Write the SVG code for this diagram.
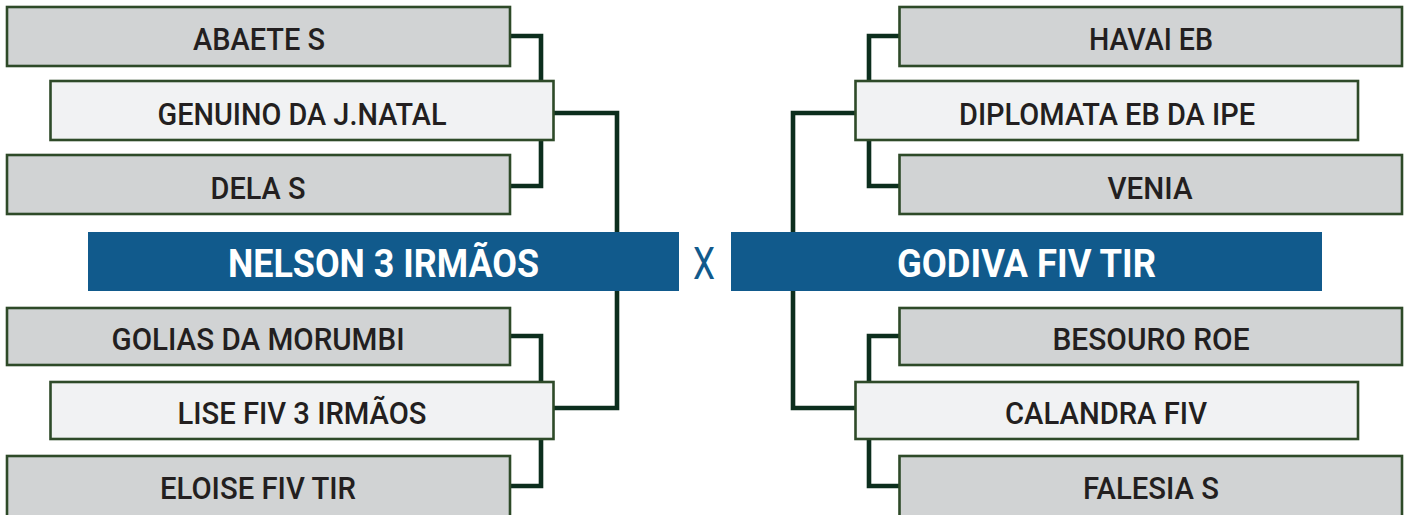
<svg xmlns="http://www.w3.org/2000/svg" width="1411" height="515" viewBox="0 0 1411 515">
<style>
.outer{fill:#d1d3d4;stroke:#2e4a28;stroke-width:2.6}
.inner{fill:#f1f2f3;stroke:#2e4a28;stroke-width:2.6}
.banner{fill:#115a8c}
.lbl{font-family:Roboto,"Liberation Sans",sans-serif;font-weight:500;font-size:32px;fill:#231f20;text-anchor:middle}
.big{font-family:Roboto,"Liberation Sans",sans-serif;font-weight:700;font-size:39px;fill:#ffffff;text-anchor:middle}
.vs{font-family:Roboto,"Liberation Sans",sans-serif;font-weight:400;font-size:45px;fill:#115a8c;text-anchor:middle}
.conn{fill:none;stroke:#0c2e1d;stroke-width:4.6;stroke-linejoin:miter;stroke-linecap:butt}
</style>
<rect width="1411" height="515" fill="#ffffff"/>
<g id="connectors">
<polyline class="conn" points="510,36 541,36 541,82"/>
<polyline class="conn" points="510,186 541,186 541,140"/>
<polyline class="conn" points="553,113 617,113 617,233"/>
<polyline class="conn" points="510,336 541,336 541,383"/>
<polyline class="conn" points="510,486 541,486 541,439"/>
<polyline class="conn" points="553,408 617,408 617,290"/>
<polyline class="conn" points="900,36 869,36 869,82"/>
<polyline class="conn" points="900,186 869,186 869,140"/>
<polyline class="conn" points="856,113 793,113 793,233"/>
<polyline class="conn" points="900,336 869,336 869,383"/>
<polyline class="conn" points="900,486 869,486 869,439"/>
<polyline class="conn" points="856,408 793,408 793,290"/>
</g>
<g id="abaete"><rect class="outer" x="7" y="7" width="503" height="59"/><text class="lbl" x="259" y="50" textLength="132" lengthAdjust="spacingAndGlyphs">ABAETE S</text></g>
<g id="genuino"><rect class="inner" x="50.5" y="81" width="503" height="59"/><text class="lbl" x="302" y="124.5" textLength="289" lengthAdjust="spacingAndGlyphs">GENUINO DA J.NATAL</text></g>
<g id="dela"><rect class="outer" x="7" y="155" width="503" height="59"/><text class="lbl" x="258" y="199" textLength="95" lengthAdjust="spacingAndGlyphs">DELA S</text></g>
<g id="golias"><rect class="outer" x="7" y="308" width="503" height="57"/><text class="lbl" x="258" y="350" textLength="293" lengthAdjust="spacingAndGlyphs">GOLIAS DA MORUMBI</text></g>
<g id="lise"><rect class="inner" x="50.5" y="382" width="503" height="57"/><text class="lbl" x="302" y="424" textLength="249" lengthAdjust="spacingAndGlyphs">LISE FIV 3 IRMÃOS</text></g>
<g id="eloise"><rect class="outer" x="7" y="456" width="503" height="64"/><text class="lbl" x="258" y="499" textLength="196" lengthAdjust="spacingAndGlyphs">ELOISE FIV TIR</text></g>
<g id="havai"><rect class="outer" x="899.5" y="7" width="502.5" height="59"/><text class="lbl" x="1151" y="50" textLength="124" lengthAdjust="spacingAndGlyphs">HAVAI EB</text></g>
<g id="diplomata"><rect class="inner" x="855.5" y="81" width="502.5" height="59"/><text class="lbl" x="1107" y="124.5" textLength="296" lengthAdjust="spacingAndGlyphs">DIPLOMATA EB DA IPE</text></g>
<g id="venia"><rect class="outer" x="899.5" y="155" width="502.5" height="59"/><text class="lbl" x="1150" y="199" textLength="85" lengthAdjust="spacingAndGlyphs">VENIA</text></g>
<g id="besouro"><rect class="outer" x="899.5" y="308" width="502.5" height="57"/><text class="lbl" x="1151" y="350" textLength="197" lengthAdjust="spacingAndGlyphs">BESOURO ROE</text></g>
<g id="calandra"><rect class="inner" x="855.5" y="382" width="502.5" height="57"/><text class="lbl" x="1106" y="424" textLength="202" lengthAdjust="spacingAndGlyphs">CALANDRA FIV</text></g>
<g id="falesia"><rect class="outer" x="899.5" y="456" width="502.5" height="64"/><text class="lbl" x="1151" y="499" textLength="136" lengthAdjust="spacingAndGlyphs">FALESIA S</text></g>
<g id="nelson"><rect class="banner" x="88" y="232" width="591" height="59"/><text class="big" x="383.5" y="276.5" textLength="311" lengthAdjust="spacingAndGlyphs">NELSON 3 IRMÃOS</text></g>
<g id="versus"><text class="vs" x="704" y="279" textLength="22" lengthAdjust="spacingAndGlyphs">X</text></g>
<g id="godiva"><rect class="banner" x="731" y="232" width="591" height="59"/><text class="big" x="1026.5" y="276.5" textLength="259" lengthAdjust="spacingAndGlyphs">GODIVA FIV TIR</text></g>
</svg>
